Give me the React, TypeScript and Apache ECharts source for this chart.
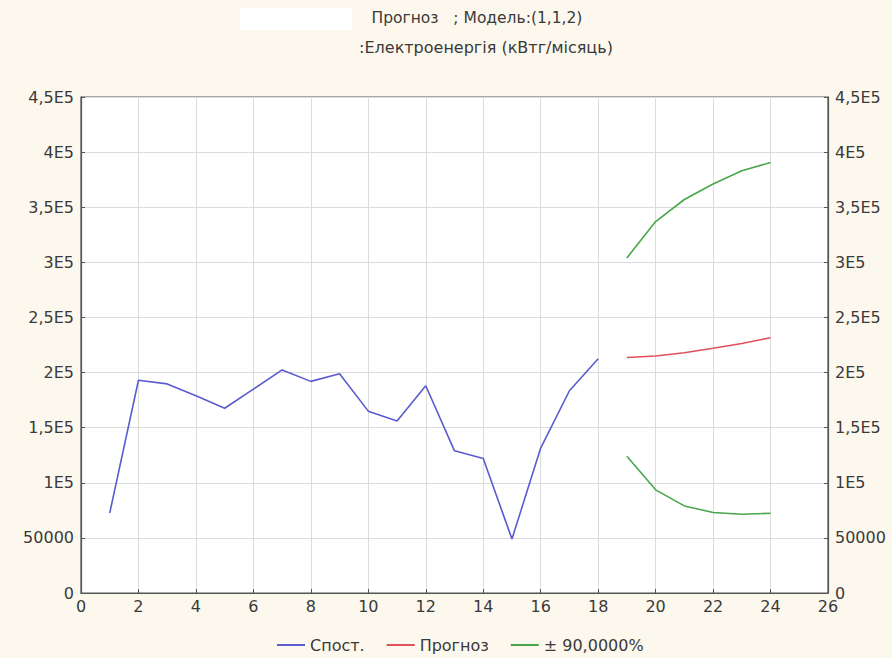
import React, { useEffect, useRef } from "react";
import * as echarts from "echarts";

const obsX = [1, 2, 3, 4, 5, 6, 7, 8, 9, 10, 11, 12, 13, 14, 15, 16, 17, 18];
const obsY = [72600, 193000, 189700, 179000, 167600, 185000, 202400, 192000, 199000, 165000, 156000, 188000, 129000, 122000, 49000, 131500, 183500, 212500];
const fcX = [19, 20, 21, 22, 23, 24];
const fcY = [213700, 215000, 218000, 222000, 226400, 231600];
const upperY = [304000, 337000, 357000, 371000, 383000, 390600];
const lowerY = [124000, 93600, 79000, 73000, 71400, 72300];

const seriesNames = ["Спост.", "Прогноз", "± 90,0000%"];
const titleLine1 = "Прогноз   ; Модель:(1,1,2)";
const titleLine2 = ":Електроенергія (кВтг/місяць)";

const zip = (xs: number[], ys: number[]) => xs.map((x, i) => [x, ys[i]]);

const fmtY = (v: number) => {
  if (v === 0) return "0";
  if (v === 50000) return "50000";
  const m = v / 100000;
  return String(m).replace(".", ",") + "E5";
};

export default function App() {
  const ref = useRef<HTMLDivElement>(null);
  useEffect(() => {
    if (!ref.current) return;
    const chart = echarts.init(ref.current, undefined, { renderer: "svg" });
    const font = "'DejaVu Sans', 'Liberation Sans', sans-serif";
    const yCommon = {
      type: "value" as const,
      min: 0,
      max: 450000,
      interval: 50000,
      axisLine: { show: true, lineStyle: { color: "#555", width: 1.2 } },
      axisTick: { show: true, inside: true, length: 4, lineStyle: { color: "#555" } },
      splitLine: { show: true, lineStyle: { color: "#dcdcdc", width: 1 } },
      axisLabel: { formatter: fmtY, color: "#3a3a3a", fontSize: 16, fontFamily: font, margin: 7 },
    };
    chart.setOption({
      animation: false,
      backgroundColor: "#fdf8ee",
      textStyle: { fontFamily: font },
      graphic: [
        { type: "rect", shape: { x: 240, y: 8, width: 112, height: 22 }, style: { fill: "#ffffff" } },
        { type: "text", x: 477, y: 10, style: { text: titleLine1, fill: "#3a3a3a", fontSize: 15.5, fontFamily: font, textAlign: "center" } },
        { type: "text", x: 486, y: 39, style: { text: titleLine2, fill: "#3a3a3a", fontSize: 16, fontFamily: font, textAlign: "center" } },
      ],
      grid: {
        left: 81,
        right: 64,
        top: 97,
        bottom: 65,
        show: true,
        backgroundColor: "#ffffff",
        borderColor: "#555",
        borderWidth: 1.2,
      },
      legend: {
        top: 632,
        left: 272,
        itemWidth: 28,
        itemHeight: 2,
        itemGap: 22,
        icon: "rect",
        data: seriesNames,
        textStyle: { fontSize: 16, color: "#3a3a3a", fontFamily: font },
      },
      xAxis: {
        type: "value",
        min: 0,
        max: 26,
        interval: 2,
        axisLine: { show: true, lineStyle: { color: "#555", width: 1.2 } },
        axisTick: { show: true, inside: true, length: 4, lineStyle: { color: "#555" } },
        splitLine: { show: true, lineStyle: { color: "#dcdcdc", width: 1 } },
        axisLabel: { color: "#3a3a3a", fontSize: 16, fontFamily: font, margin: 5 },
      },
      yAxis: [
        { ...yCommon, position: "left" },
        { ...yCommon, position: "right", splitLine: { show: false } },
      ],
      series: [
        {
          name: seriesNames[0],
          type: "line",
          data: zip(obsX, obsY),
          showSymbol: false,
          lineStyle: { color: "#5b5bd0", width: 1.6 },
          itemStyle: { color: "#5b5bd0" },
        },
        {
          name: seriesNames[1],
          type: "line",
          data: zip(fcX, fcY),
          showSymbol: false,
          lineStyle: { color: "#e0505a", width: 1.6 },
          itemStyle: { color: "#e0505a" },
        },
        {
          name: seriesNames[2],
          type: "line",
          data: zip(fcX, upperY),
          showSymbol: false,
          lineStyle: { color: "#4aa64a", width: 1.6 },
          itemStyle: { color: "#4aa64a" },
        },
        {
          name: seriesNames[2],
          type: "line",
          data: zip(fcX, lowerY),
          showSymbol: false,
          lineStyle: { color: "#4aa64a", width: 1.6 },
          itemStyle: { color: "#4aa64a" },
        },
      ],
    });
    return () => chart.dispose();
  }, []);
  return <div ref={ref} style={{ position: "fixed", left: 0, top: 0, width: 892, height: 658 }} />;
}
